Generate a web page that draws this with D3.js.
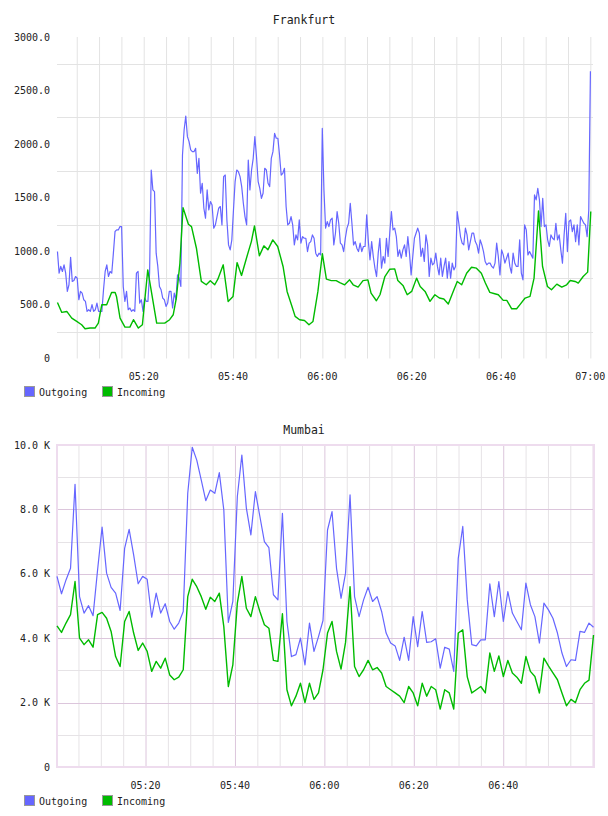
<!DOCTYPE html>
<html>
<head>
<meta charset="utf-8">
<script src="https://cdn.jsdelivr.net/npm/d3@7"></script>
<style>
  body { margin: 0; background: #fff; }
  svg { display: block; }
</style>
</head>
<body>
<svg id="chart" width="608" height="816"></svg>
<script>
const seriesNames = ["Outgoing", "Incoming"];
const seriesColors = ["#6666ff", "#00bb00"];
const timeLabels = ["05:20", "05:40", "06:00", "06:20", "06:40", "07:00"];

// Frankfurt - outgoing is sampled every ~22 s, incoming is irregular (minutes after 05:00)
const fraOutStartSec = 41;
const fraOutStepSec = 22.1;
const fraOut = [
  998, 796, 859, 812, 874, 796, 626, 688, 945, 719,
  728, 765, 750, 548, 626, 610, 548, 533, 440, 455,
  440, 502, 440, 455, 517, 440, 440, 440, 641, 812,
  874, 765, 812, 796, 983, 1185, 1200, 1200, 1231, 1231,
  672, 532, 626, 455, 471, 440, 455, 440, 796, 812,
  517, 548, 440, 564, 533, 533, 796, 1759, 1573, 1557,
  983, 859, 672, 641, 564, 548, 486, 517, 626, 626,
  471, 610, 548, 781, 750, 672, 1899, 2132, 2262, 2070,
  2024, 1946, 1930, 1930, 1961, 1728, 1868, 1542, 1635, 1402,
  1309, 1573, 1386, 1464, 1433, 1216, 1247, 1324, 1402, 1418,
  1247, 1697, 1712, 1293, 1060, 1014, 1107, 1386, 1651, 1759,
  1743, 1697, 1604, 1449, 1324, 1247, 1852, 1573, 1759, 1868,
  2070, 1883, 1651, 1588, 1495, 1542, 1775, 1759, 1635, 1604,
  1868, 1930, 2101, 2055, 2055, 1899, 1712, 1728, 1775, 1418,
  1247, 1262, 1324, 1247, 1060, 1153, 1107, 1293, 1076, 1138,
  1122, 1122, 998, 1076, 1091, 1153, 1122, 983, 952, 983,
  967,
  2147, 1573, 1216, 1278, 1231, 1293, 1309, 1060, 1169, 1371,
  1262, 1076, 1060, 998, 1122, 1216, 1262, 1448, 1262, 1060,
  1091, 1029, 998, 1076, 998, 1045, 1045, 1340, 1091, 921,
  1091, 952, 843, 765, 983, 1122, 843, 952, 890, 1122,
  952, 1169, 1371, 1200, 1216, 1138, 952, 1014, 936, 1014,
  1060, 952, 1138, 983, 780, 952, 1122, 1169, 1216, 1169,
  952, 1029, 905, 1153, 1060, 765, 936, 874, 890, 983,
  859, 780, 936, 765, 859, 936, 750, 905, 750, 890,
  827, 859, 1371, 1262, 1138, 1076, 1060, 1216, 1153, 1014,
  1091, 1169, 1169, 1091, 1060, 983, 1107, 1060, 998, 905,
  874, 890, 890, 859, 843, 890, 1076, 952, 780, 1014,
  967, 890, 936, 983, 859, 796, 983, 890, 859, 859,
  1107, 796, 734, 1247, 1200, 967, 998, 967, 936, 1526,
  1480, 1588, 1480, 1231, 1495, 1231, 1247, 1107, 1045, 1153,
  1122, 1107, 1262, 1107, 1153, 1014, 890, 1153, 1355, 998,
  1278, 1293, 1184, 1247, 1091, 1247, 1060, 1324, 1293, 1262,
  1247, 1138, 1386, 2680
];
const fraInMinutes = [
  0.68, 1.65, 2.77, 3.88, 5.0, 6.1, 6.86, 7.98, 9.1, 9.84,
  10.6, 11.7, 12.8, 13.6, 13.9, 14.7, 15.8, 16.9, 17.7, 18.8,
  19.7, 20.9, 22.9, 24.7, 25.8, 26.6, 27.3, 28.1, 28.8, 30.0,
  30.7, 31.8, 32.9, 34.0, 34.9, 35.9, 36.6, 37.8, 38.9, 40.0,
  40.9, 41.9, 43.0, 44.1, 44.8, 45.9, 46.9, 47.8, 48.9, 50.0,
  51.2, 52.1, 53.2, 53.9, 54.9, 56.0, 57.0, 57.9, 59.0, 60.0,
  60.9, 62.0, 63.1, 63.9, 65.0, 66.1, 66.9, 68.0, 69.1, 70.2,
  70.9, 72.1, 72.9, 74.0, 75.1, 76.2, 76.9, 78.1, 79.0, 80.0,
  81.1, 81.9, 83.0, 84.1, 85.2, 86.2, 87.2, 88.2, 89.3, 90.2,
  91.2, 92.3, 93.4, 94.5, 95.6, 96.5, 97.5, 98.6, 99.4, 100.5,
  101.3, 102.4, 103.5, 104.2, 105.4, 106.5, 107.4, 108.4, 109.3, 110.4,
  111.3, 112.5, 113.6, 114.7, 115.5, 116.6, 117.3, 118.4, 119.4, 120.1
];
const fraIn = [
  523, 430, 439, 377, 346, 315, 278, 284, 284, 330,
  501, 501, 616, 616, 579, 377, 293, 293, 362, 284,
  315, 827, 330, 330, 362, 408, 563, 889, 1408, 1253,
  1231, 1029, 719, 688, 725, 688, 740, 874, 532, 579,
  895, 775, 936, 1091, 1237, 958, 1051, 1014, 1107, 1045,
  859, 626, 486, 393, 362, 355, 315, 346, 626, 977,
  740, 727, 727, 709, 688, 734, 688, 666, 727, 734,
  610, 539, 595, 765, 833, 836, 727, 678, 595, 626,
  750, 672, 626, 533, 595, 564, 555, 508, 626, 719,
  688, 796, 852, 843, 796, 704, 617, 604, 595, 542,
  542, 464, 464, 501, 564, 579, 750, 1377, 859, 672,
  641, 694, 666, 688, 728, 719, 704, 765, 806, 1371
];
const fraYTicks = [0, 500, 1000, 1500, 2000, 2500, 3000];
const fraYGrid = [250, 750, 1250, 1750, 2250, 2750];

// Mumbai - values in thousands, one sample about every minute
const bomStartSec = 12;
const bomStepSec = 60.5;
const bomOut = [
  5.92, 5.38, 5.81, 6.17, 8.78, 5.29, 4.78, 5.01, 4.70, 6.12,
  7.45, 6.02, 5.58, 5.40, 4.86, 6.79, 7.38, 6.59, 5.69, 5.92,
  5.83, 4.65, 5.40, 4.78, 5.07, 4.52, 4.28, 4.47, 4.83, 8.50,
  9.93, 9.53, 8.91, 8.27, 8.60, 8.50, 9.14, 7.98, 4.49, 5.14,
  8.40, 9.69, 8.04, 7.21, 8.55, 7.78, 7.00, 6.81, 5.35, 5.19,
  7.88, 4.52, 3.43, 3.49, 4.00, 3.17, 4.47, 3.59, 4.05, 4.55,
  7.36, 7.93, 6.17, 5.24, 6.02, 8.45, 5.29, 4.67, 5.19, 5.58,
  5.14, 5.29, 4.83, 4.16, 3.85, 3.76, 3.31, 4.03, 3.31, 4.67,
  3.74, 4.83, 3.87, 3.89, 3.98, 3.07, 3.72, 3.66, 2.97, 6.48,
  7.47, 5.19, 3.80, 3.76, 3.95, 3.95, 5.69, 4.67, 5.76, 4.52,
  5.45, 4.78, 4.52, 4.26, 5.71, 5.04, 4.67, 3.85, 5.09, 4.88,
  4.62, 4.16, 3.54, 3.12, 3.33, 3.31, 4.21, 4.18, 4.47, 4.34
];
const bomIn = [
  4.38, 4.18, 4.47, 4.73, 5.76, 4.00, 3.80, 3.95, 3.72, 4.73,
  4.80, 4.62, 4.21, 3.43, 3.12, 4.52, 4.83, 4.16, 3.62, 3.85,
  3.59, 2.97, 3.28, 3.07, 3.38, 2.86, 2.71, 2.79, 3.02, 5.29,
  5.83, 5.60, 5.29, 4.90, 5.27, 5.14, 5.40, 4.36, 2.50, 3.17,
  5.09, 5.92, 4.93, 4.67, 5.29, 4.83, 4.42, 4.31, 3.31, 3.28,
  4.76, 2.40, 1.90, 2.20, 2.60, 2.00, 2.60, 2.10, 2.30, 3.02,
  4.16, 4.52, 3.59, 3.04, 3.87, 5.60, 3.12, 2.81, 3.02, 3.31,
  3.02, 3.09, 2.92, 2.50, 2.40, 2.30, 2.20, 2.00, 2.50, 2.30,
  1.90, 2.60, 2.20, 2.50, 2.40, 1.80, 2.40, 2.30, 1.80, 4.16,
  4.26, 2.80, 2.30, 2.40, 2.50, 2.30, 3.54, 2.97, 3.45, 2.81,
  3.31, 2.92, 2.79, 2.60, 3.43, 2.97, 2.81, 2.30, 3.38, 3.14,
  2.92, 2.71, 2.30, 1.90, 2.10, 2.00, 2.40, 2.60, 2.70, 4.10
];
const bomYTicks = [0, 2, 4, 6, 8, 10];
const bomYGrid = [1, 2, 3, 4, 5, 6, 7, 8, 9];

const baseTime = new Date(2000, 0, 1, 5, 0, 0);
const parseHM = d3.timeParse("%Y-%m-%d %H:%M");
const fontMono = "'DejaVu Sans Mono', monospace";

function atSec(s) { return new Date(baseTime.getTime() + s * 1000); }

function evenSeries(values, startSec, stepSec) {
  return values.map((v, i) => ({ time: atSec(startSec + i * stepSec), value: v }));
}

function drawTrafficChart(svg, cfg) {
  let left = 57, right = cfg.right;
  let g = svg.append("g");

  let x = d3.scaleTime()
    .domain([atSec(cfg.xFrom * 60), atSec(cfg.xTo * 60)])
    .range([left, right]);
  let y = d3.scaleLinear()
    .domain(cfg.yDomain)
    .range([cfg.bottom, cfg.top]);

  // title
  g.append("text")
    .attr("x", 304)
    .attr("y", cfg.titleY)
    .text(cfg.title)
    .style("text-anchor", "middle")
    .style("font-family", fontMono)
    .style("font-size", "11.5px")
    .style("fill", "#222");

  // vertical grid, every 5 minutes
  let fiveMin = d3.timeMinute.every(5).range(x.domain()[0], x.domain()[1]);
  g.selectAll(".vgrid")
    .data(fiveMin)
    .enter()
    .append("line")
      .attr("x1", d => x(d) + 0.5)
      .attr("x2", d => x(d) + 0.5)
      .attr("y1", cfg.top)
      .attr("y2", cfg.bottom)
      .style("stroke", d => (cfg.boxed && d.getMinutes() % 20 === 0) ? cfg.majorColor : cfg.gridColor)
      .style("stroke-width", "1px");

  // horizontal grid
  g.selectAll(".hgrid")
    .data(cfg.yGrid)
    .enter()
    .append("line")
      .attr("x1", left)
      .attr("x2", right)
      .attr("y1", d => Math.round(y(d)) + 0.5)
      .attr("y2", d => Math.round(y(d)) + 0.5)
      .style("stroke", d => (cfg.boxed && d % 2 === 0) ? cfg.majorColor : cfg.gridColor)
      .style("stroke-width", "1px");

  if (cfg.boxed) {
    g.append("rect")
      .attr("x", left)
      .attr("y", cfg.top)
      .attr("width", right - left)
      .attr("height", cfg.bottom - cfg.top)
      .style("fill", "none")
      .style("stroke", "#eedcee")
      .style("stroke-width", "2px");
  }

  // y labels
  g.selectAll(".ylab")
    .data(cfg.yTicks)
    .enter()
    .append("text")
      .attr("x", 50)
      .attr("y", d => y(d))
      .attr("dy", "0.35em")
      .text(cfg.yFormat)
      .style("text-anchor", "end")
      .style("font-family", fontMono)
      .style("font-size", "10px")
      .style("fill", "#222");

  // x labels
  g.selectAll(".xlab")
    .data(cfg.xLabels)
    .enter()
    .append("text")
      .attr("x", d => x(parseHM("2000-01-01 " + d)))
      .attr("y", cfg.bottom + 18)
      .attr("dy", "0.35em")
      .text(d => d)
      .style("text-anchor", "middle")
      .style("font-family", fontMono)
      .style("font-size", "10px")
      .style("fill", "#222");

  // lines
  let line = d3.line()
    .x(d => x(d.time))
    .y(d => y(d.value));
  [cfg.outData, cfg.inData].forEach((data, i) => {
    g.append("path")
      .datum(data)
      .attr("d", line)
      .style("fill", "none")
      .style("stroke", seriesColors[i])
      .style("stroke-width", i === 0 ? "1.2px" : "1.4px")
      .style("stroke-linejoin", "round");
  });

  // legend
  let legendX = [24, 102];
  g.selectAll(".legSwatch")
    .data(seriesNames)
    .enter()
    .append("rect")
      .attr("x", (d, i) => legendX[i] + 0.5)
      .attr("y", cfg.legendY - 5.5)
      .attr("width", 10)
      .attr("height", 10)
      .style("fill", (d, i) => seriesColors[i])
      .style("stroke", "#999")
      .style("stroke-width", "1px");
  g.selectAll(".legText")
    .data(seriesNames)
    .enter()
    .append("text")
      .attr("x", (d, i) => legendX[i] + 15)
      .attr("y", cfg.legendY)
      .attr("dy", "0.35em")
      .text(d => d)
      .style("font-family", fontMono)
      .style("font-size", "10px")
      .style("fill", "#222");
}

let svg = d3.select("#chart");

drawTrafficChart(svg, {
  title: "Frankfurt",
  titleY: 24,
  top: 37,
  bottom: 358.5,
  right: 593,
  xFrom: 0.58,
  xTo: 120.6,
  yDomain: [0, 3000],
  yTicks: fraYTicks,
  yGrid: fraYGrid,
  yFormat: d => d === 0 ? "0" : d.toFixed(1),
  xLabels: timeLabels,
  outData: evenSeries(fraOut, fraOutStartSec, fraOutStepSec),
  inData: fraInMinutes.map((m, i) => ({ time: atSec(m * 60), value: fraIn[i] })),
  legendY: 392,
  boxed: false,
  gridColor: "#e3e3e3"
});

drawTrafficChart(svg, {
  title: "Mumbai",
  titleY: 434,
  top: 445,
  bottom: 767,
  right: 594,
  xFrom: 0.2,
  xTo: 120.3,
  yDomain: [0, 10],
  yTicks: bomYTicks,
  yGrid: bomYGrid,
  yFormat: d => d === 0 ? "0" : d.toFixed(1) + " K",
  xLabels: timeLabels.slice(0, 5),
  outData: evenSeries(bomOut, bomStartSec, bomStepSec),
  inData: evenSeries(bomIn, bomStartSec, bomStepSec),
  legendY: 801,
  boxed: true,
  gridColor: "#e6e3e6",
  majorColor: "#dcc6dc"
});
</script>
</body>
</html>
